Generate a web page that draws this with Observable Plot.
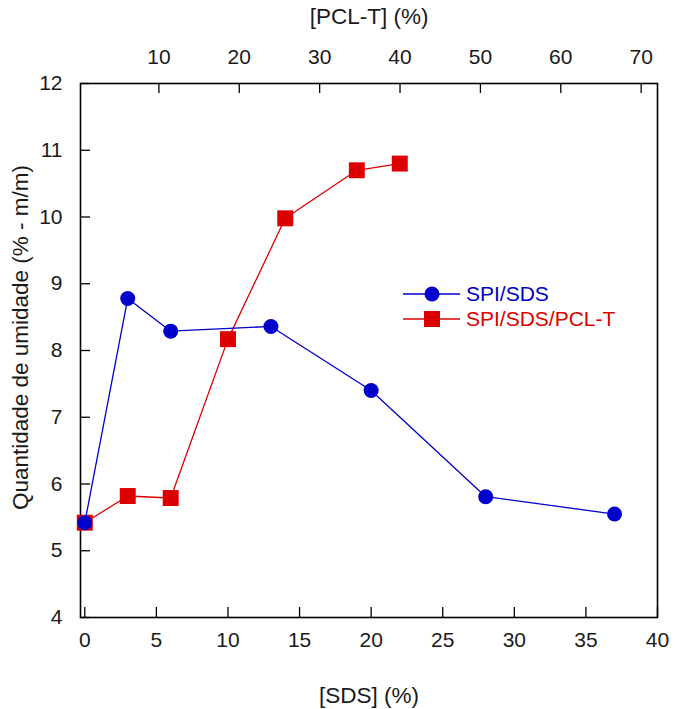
<!DOCTYPE html>
<html>
<head>
<meta charset="utf-8">
<script src="https://cdn.jsdelivr.net/npm/d3@7"></script>
<script src="https://cdn.jsdelivr.net/npm/@observablehq/plot@0.6"></script>
<style>
  body { margin: 0; background: #fff; }
  #chart { position: relative; width: 675px; height: 709px; }
  .legend { position: absolute; left: 400px; top: 281px; font-family: "Liberation Sans", Arial, sans-serif; font-size: 21px; }
  .legend .row { display: flex; align-items: center; height: 25px; }
  .legend svg { display: block; margin-right: 5px; }
</style>
</head>
<body>
<div id="chart"></div>
<script>
// Moisture content vs. surfactant (SDS) content, and with PCL-T added
const sdsLevels = [0, 3, 6, 13, 20, 28, 37];
const moistureSpiSds = [5.42, 8.78, 8.29, 8.36, 7.40, 5.81, 5.55];
const sdsLevelsPcl = [0, 3, 6, 10, 14, 19, 22];
const moistureSpiSdsPcl = [5.42, 5.82, 5.79, 8.17, 9.98, 10.70, 10.80];

const seriesNames = ["SPI/SDS", "SPI/SDS/PCL-T"];
const seriesColors = ["#0000cc", "#dd0000"];

const sdsTicks = [0, 5, 10, 15, 20, 25, 30, 35, 40];
const pclTicks = [10, 20, 30, 40, 50, 60, 70];
const moistureTicks = [4, 5, 6, 7, 8, 9, 10, 11, 12];

const xTitle = "[SDS] (%)";
const topTitle = "[PCL-T] (%)";
const yTitle = "Quantidade de umidade (% - m/m)";

// Secondary (top) axis: PCL-T content expressed on the SDS scale
const pclToSds = d3.scaleLinear().domain([0, 70]).range([-0.44, 38.86]);

const spiSds = sdsLevels.map((x, i) => ({x, y: moistureSpiSds[i]}));
const spiSdsPcl = sdsLevelsPcl.map((x, i) => ({x, y: moistureSpiSdsPcl[i]}));

const width = 675, height = 709;
const margin = {top: 83, right: 18, bottom: 92, left: 80};
const innerW = width - margin.left - margin.right;
const innerH = height - margin.top - margin.bottom;
const tick = 10;
const titleSize = 22.5;

const chart = Plot.plot({
  width, height,
  marginTop: margin.top, marginRight: margin.right,
  marginBottom: margin.bottom, marginLeft: margin.left,
  style: {fontFamily: "'Liberation Sans', Arial, sans-serif", fontSize: "21px", color: "#1a1a1a", background: "#fff"},
  x: {domain: [-0.3, 40]},
  y: {domain: [4, 12]},
  marks: [
    // tick labels
    Plot.axisX(sdsTicks, {anchor: "bottom", tickSize: 0, tickPadding: 15, label: null}),
    Plot.axisX(pclTicks.map(pclToSds), {anchor: "top", tickSize: 0, tickPadding: 20,
      tickFormat: (d) => Math.round(pclToSds.invert(d)), label: null}),
    Plot.axisY(moistureTicks, {anchor: "left", tickSize: 0, tickPadding: 18, tickFormat: (d) => d, label: null}),
    // axis titles
    Plot.axisX([], {anchor: "bottom", tickSize: 0, label: xTitle, labelAnchor: "center", labelArrow: "none", labelOffset: 85, fontSize: titleSize}),
    Plot.axisX([], {anchor: "top", tickSize: 0, label: topTitle, labelAnchor: "center", labelArrow: "none", labelOffset: 75, fontSize: titleSize}),
    Plot.text([yTitle], {frameAnchor: "left", rotate: -90, dx: -60, dy: -13, fontSize: titleSize,
      textAnchor: "middle", lineAnchor: "middle", fill: "currentColor"}),
    // inward tick marks
    Plot.tickX(sdsTicks, {x: (d) => d, stroke: "#000", strokeWidth: 1.3, insetTop: innerH - tick}),
    Plot.tickX(pclTicks, {x: (d) => pclToSds(d), stroke: "#000", strokeWidth: 1.3, insetBottom: innerH - tick}),
    Plot.tickY(moistureTicks, {y: (d) => d, stroke: "#000", strokeWidth: 1.3, insetRight: innerW - tick}),
    Plot.frame({stroke: "#000", strokeWidth: 1.6}),
    Plot.line(spiSdsPcl, {x: "x", y: "y", stroke: seriesColors[1], strokeWidth: 1.3}),
    Plot.dot(spiSdsPcl, {x: "x", y: "y", symbol: "square", r: 9, fill: seriesColors[1]}),
    Plot.line(spiSds, {x: "x", y: "y", stroke: seriesColors[0], strokeWidth: 1.3}),
    Plot.dot(spiSds, {x: "x", y: "y", symbol: "circle", r: 7.5, fill: seriesColors[0]})
  ]
});

const root = document.getElementById("chart");
root.appendChild(chart);

// Legend placed inside the plot area
const legend = document.createElement("div");
legend.className = "legend";
seriesNames.forEach((name, i) => {
  const row = document.createElement("div");
  row.className = "row";
  const marker = i === 0
    ? `<circle cx="32" cy="12" r="7.5" fill="${seriesColors[i]}"/>`
    : `<rect x="24" y="4" width="16" height="16" fill="${seriesColors[i]}"/>`;
  row.innerHTML = `<svg width="61" height="24"><line x1="3" x2="60" y1="12" y2="12" stroke="${seriesColors[i]}" stroke-width="1.3"/>${marker}</svg><span style="color:${seriesColors[i]}">${name}</span>`;
  legend.appendChild(row);
});
root.appendChild(legend);
</script>
</body>
</html>
